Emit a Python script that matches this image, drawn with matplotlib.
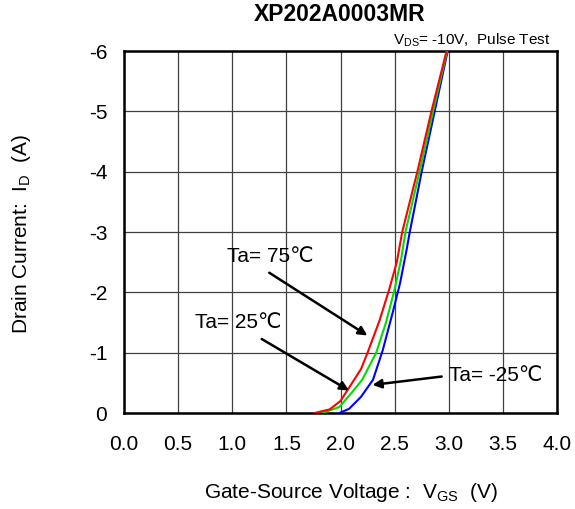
import matplotlib
matplotlib.use('Agg')
import matplotlib.pyplot as plt

plt.rcParams['font.family'] = ['Liberation Sans', 'DejaVu Sans']
plt.rcParams['mathtext.default'] = 'regular'

# ── DATA ─────────────────────────────────────────────────────────────────────
vgs_75 = [1.76, 1.90, 2.00, 2.19, 2.25, 2.36, 2.45, 2.52, 2.57, 2.71, 2.84, 2.98]
id_75  = [0.0, -0.06, -0.20, -0.73, -1.00, -1.53, -2.05, -2.50, -3.0, -4.0, -5.0, -6.0]

vgs_25 = [1.83, 1.99, 2.10, 2.20, 2.33, 2.42, 2.50, 2.56, 2.60, 2.73, 2.855, 2.985]
id_25  = [0.0, -0.10, -0.33, -0.55, -1.00, -1.50, -2.05, -2.55, -3.0, -4.0, -5.0, -6.0]

vgs_m25 = [1.99, 2.08, 2.19, 2.30, 2.39, 2.48, 2.55, 2.61, 2.64, 2.75, 2.87, 2.99]
id_m25  = [0.0, -0.07, -0.27, -0.55, -1.04, -1.65, -2.15, -2.70, -3.0, -4.0, -5.0, -6.0]

x_ticks = [0.0, 0.5, 1.0, 1.5, 2.0, 2.5, 3.0, 3.5, 4.0]
y_ticks = [0, -1, -2, -3, -4, -5, -6]

# ── FIGURE ───────────────────────────────────────────────────────────────────
fig = plt.figure(figsize=(5.75, 5.09), dpi=100)
ax = fig.add_axes([0.2157, 0.1886, 0.7530, 0.7112])

ax.plot(vgs_m25, id_m25, color='#0000ff', lw=1.5, zorder=3)
ax.plot(vgs_25, id_25, color='#00dd00', lw=1.5, zorder=3)
ax.plot(vgs_75, id_75, color='#ff0000', lw=1.5, zorder=3)

ax.set_xlim(0, 4.0)
ax.set_ylim(0, -6)
ax.set_xticks(x_ticks)
ax.set_xticklabels([f'{v:.1f}' for v in x_ticks])
ax.set_yticks(y_ticks)
ax.set_yticklabels([str(v) for v in y_ticks])
ax.tick_params(length=0, labelsize=15)
ax.tick_params(axis='x', pad=16)
ax.tick_params(axis='y', pad=12)
ax.grid(True, color='#404040', lw=0.9)
for s in ax.spines.values():
    s.set_linewidth(1.8)
    s.set_color('black')

fig.text(0.591, 0.972, 'XP202A0003MR', ha='center', va='center',
         fontsize=16.5, fontweight='bold')
ax.text(0.985, 1.005, 'V$_{DS}$= -10V,  Pulse Test', transform=ax.transAxes,
        ha='right', va='bottom', fontsize=11)

fig.text(0.61, 0.033, 'Gate-Source Voltage :  V$_{GS}$  (V)', ha='center',
         va='center', fontsize=15)
fig.text(0.038, 0.54, 'Drain Current:  I$_{D}$  (A)', ha='center', va='center',
         rotation=90, fontsize=15)

arrow = dict(arrowstyle='-|>', color='black', lw=1.8, mutation_scale=13)
ax.annotate('', xy=(2.27, -1.26), xytext=(1.32, -2.35), arrowprops=arrow)
ax.annotate('', xy=(2.10, -0.35), xytext=(1.25, -1.25), arrowprops=arrow)
ax.annotate('', xy=(2.27, -0.46), xytext=(2.96, -0.61), arrowprops=arrow)

ax.text(0.95, -2.59, 'Ta= 75\u2103', fontsize=15, ha='left', va='center')
ax.text(0.66, -1.50, 'Ta= 25\u2103', fontsize=15, ha='left', va='center')
ax.text(3.0, -0.62, 'Ta= -25\u2103', fontsize=15, ha='left', va='center')

plt.savefig('out.png', dpi=100)
